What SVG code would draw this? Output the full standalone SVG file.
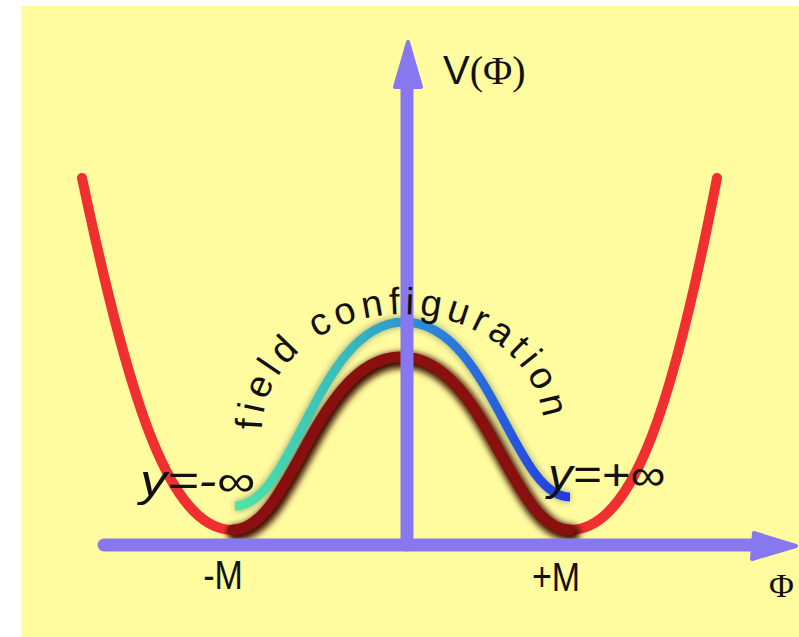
<svg xmlns="http://www.w3.org/2000/svg" width="799" height="637" viewBox="0 0 799 637">
<defs>
<style>
.axis{stroke:#8878F0;stroke-width:13;stroke-linecap:round;fill:none}
.head{fill:#8878F0;stroke:#8878F0;stroke-width:4;stroke-linejoin:round}
.red{stroke:#F03030;stroke-width:10;stroke-linecap:round;fill:none}
.lbl{font-family:"Liberation Sans",Arial,sans-serif;fill:#111}
.serif{font-family:"Liberation Serif","Times New Roman",serif;fill:#111}
.hand{font-family:"Liberation Sans",Arial,sans-serif;fill:#111;font-style:italic}
</style>
<linearGradient id="fc" x1="235" y1="0" x2="570" y2="0" gradientUnits="userSpaceOnUse">
<stop offset="0" stop-color="#4EE6A6"/>
<stop offset="0.35" stop-color="#35B8C0"/>
<stop offset="0.55" stop-color="#2C8CD8"/>
<stop offset="1" stop-color="#2438E0"/>
</linearGradient>
<filter id="blur" x="-20%" y="-20%" width="140%" height="140%">
<feGaussianBlur stdDeviation="3"/>
</filter>
<path id="arc" d="M 262,430 A 140 115 0 0 1 544,430"/>
</defs>
<rect x="0" y="0" width="799" height="637" fill="#FFFFFF"/>
<rect x="21" y="6" width="778" height="631" fill="#FFFB9E"/>
<g id="potential">
<path class="red" d="M82,178 C128,395 168,530 233,530"/>
<path class="red" d="M570,530 C635,530 675,395 717,178"/>
<path d="M233,530 C292,530 316,357 401,357 C486,357 510,530 570,530" fill="none" stroke="#3A0A00" stroke-width="16" stroke-linecap="round" filter="url(#blur)" transform="translate(2,3)"/>
<path d="M233,530 C292,530 316,357 401,357 C486,357 510,530 570,530" fill="none" stroke="#8A1010" stroke-width="11" stroke-linecap="round"/>
</g>
<g id="field-configuration">
<path d="M235,506 C294,506 318,322 404,322 C490,322 513,497 570,497" fill="none" stroke="#0A2A40" stroke-width="11" opacity="0.35" filter="url(#blur)"/>
<path d="M235,506 C294,506 318,322 404,322 C490,322 513,497 570,497" fill="none" stroke="url(#fc)" stroke-width="9"/>
</g>
<g id="axes">
<line class="axis" x1="104" y1="545" x2="758" y2="545"/>
<polygon class="head" points="754,533 796,546 752,559"/>
<line class="axis" x1="407" y1="545" x2="407" y2="84"/>
<polygon class="head" points="395,87 408,42 421,87"/>
</g>
<g id="labels">
<text class="lbl" x="443" y="84" font-size="40"><tspan>V</tspan><tspan class="serif">(Φ)</tspan></text>
<text class="serif" x="769" y="597" font-size="34">Φ</text>
<text class="lbl" x="223" y="589" font-size="40" text-anchor="middle" transform="translate(223,0) scale(0.85,1) translate(-223,0)">-M</text>
<text class="lbl" x="556" y="591" font-size="40" text-anchor="middle" transform="translate(556,0) scale(0.85,1) translate(-556,0)">+M</text>
<text class="hand" x="140" y="496" font-size="44" textLength="115" lengthAdjust="spacingAndGlyphs">y=-∞</text>
<text class="hand" x="548" y="490" font-size="44" textLength="117" lengthAdjust="spacingAndGlyphs">y=+∞</text>
<text class="lbl" font-size="38"><textPath href="#arc" textLength="392" lengthAdjust="spacing">field configuration</textPath></text>
</g>
</svg>
